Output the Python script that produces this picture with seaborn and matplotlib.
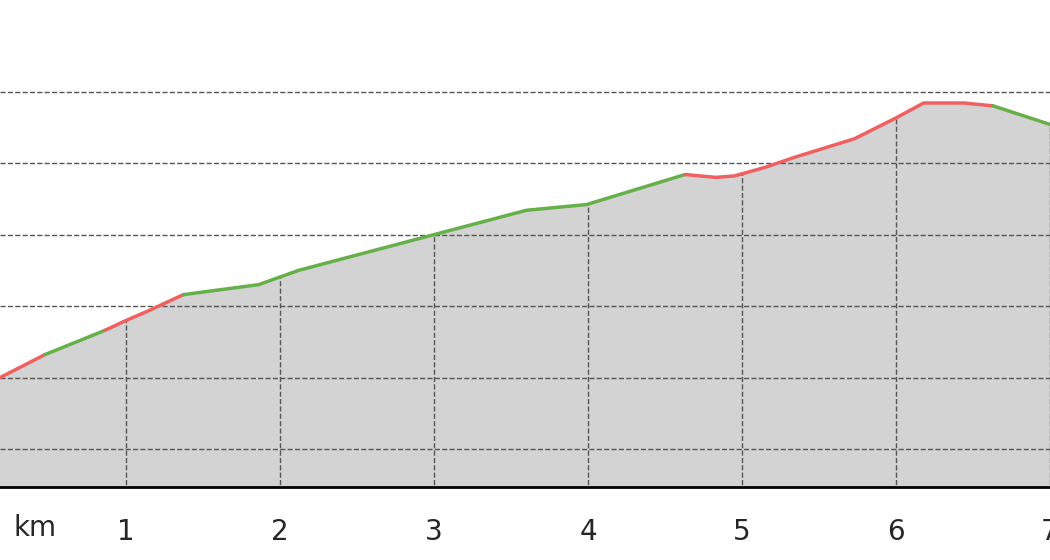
import numpy as np
import pandas as pd
import seaborn as sns
import matplotlib.pyplot as plt

# profile points (distance in km, elevation in m)
dist = [0.18, 0.47, 0.86, 1.0, 1.15, 1.37, 1.86, 2.12, 3.0, 3.6, 3.99, 4.63,
        4.83, 4.95, 5.15, 5.34, 5.73, 5.99, 6.18, 6.44, 6.63, 7.0]
elev = [550, 566, 583, 590, 597, 608, 615, 625, 650, 667, 671, 692,
        690, 691, 697, 704, 717, 731, 742, 742, 740, 727]
# segment breaks (index into points) and colour of each stretch
breaks = [0, 1, 2, 5, 11, 20, 21]
seg_colors = ["#f06060", "#66b04a", "#f06060", "#66b04a", "#f06060", "#66b04a"]

km_ticks = [1, 2, 3, 4, 5, 6, 7]
elev_grid = [500, 550, 600, 650, 700, 750]

sns.set_style("white")
fig = plt.figure(figsize=(10.5, 5.6), dpi=100)
ax = fig.add_axes([0, 0.13, 1, 0.87])

df = pd.DataFrame({"km": dist, "elev": elev})
ax.fill_between(df["km"], df["elev"], 470, color="#d3d3d3", zorder=1)
# vertical grid only under the profile
tops = np.interp(km_ticks, dist, elev)
ax.vlines(km_ticks, 470, tops, colors="#555555", linestyles="--", lw=1, zorder=2)
for i in range(len(seg_colors)):
    part = df.iloc[breaks[i]:breaks[i + 1] + 1]
    sns.lineplot(data=part, x="km", y="elev", color=seg_colors[i], lw=2.5, ax=ax, zorder=3)

ax.set_xlim(0.18, 6.95)
ax.set_ylim(473.4, 814)
ax.set_xticks(km_ticks)
ax.set_xticklabels([str(t) for t in km_ticks], fontsize=20)
ax.set_yticks(elev_grid)
ax.set_yticklabels([])
ax.tick_params(axis="both", length=0, pad=22)
ax.grid(True, axis="y", ls="--", color="#555555", lw=1, zorder=2)
ax.set_axisbelow(False)
ax.set_xlabel("")
ax.set_ylabel("")
for s in ["top", "left", "right"]:
    ax.spines[s].set_visible(False)
ax.spines["bottom"].set_color("black")
ax.spines["bottom"].set_linewidth(2)
fig.text(35 / 1050, 1 - 528 / 560, "km", fontsize=20, ha="center", va="center")

fig.savefig("out.png", dpi=100)
